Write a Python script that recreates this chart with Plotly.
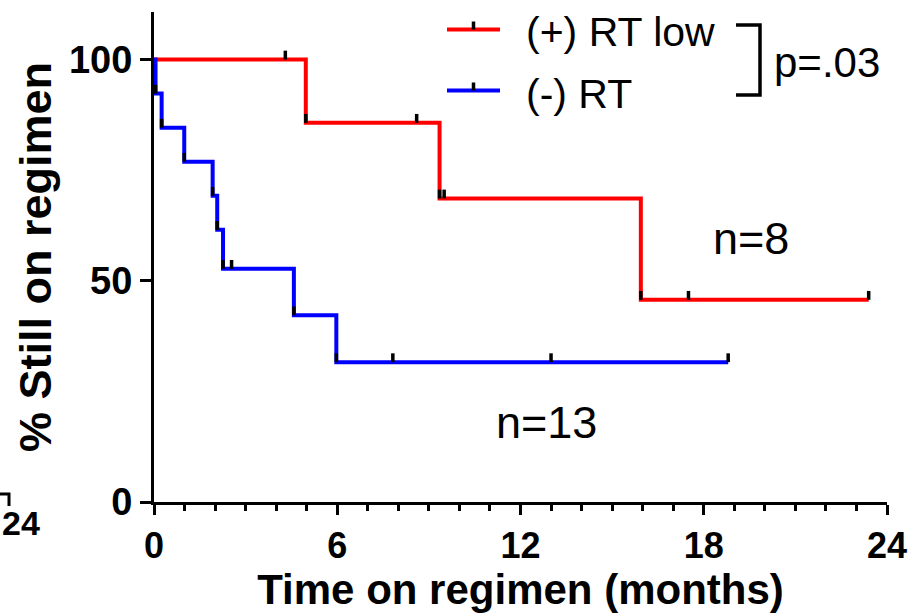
import plotly.graph_objects as go

# ---- data ----
red_t = [0, 4.97, 9.35, 15.94, 23.4]
red_s = [100, 85.7, 68.6, 45.7, 45.7]
red_cens_t = [4.3, 8.6, 9.5, 17.5, 23.4]
red_cens_s = [100, 85.7, 68.6, 45.7, 45.7]

blue_t = [0, 0.05, 0.25, 0.99, 1.92, 2.07, 2.26, 4.58, 5.97, 18.8]
blue_s = [100, 92.3, 84.6, 76.9, 69.2, 61.5, 52.7, 42.2, 31.6, 31.6]
blue_cens_t = [2.54, 7.82, 13.0, 18.8]
blue_cens_s = [52.7, 31.6, 31.6, 31.6]

x_ticks = [0, 6, 12, 18, 24]
y_ticks = [0, 50, 100]
labels = ["(+) RT low", "(-) RT"]
n_labels = ["n=8", "n=13"]
p_label = "p=.03"

RED = "#ff0000"
BLUE = "#0000ff"
FONT = "Liberation Sans, Arial, sans-serif"

fig = go.Figure()

fig.add_trace(go.Scatter(x=red_t, y=red_s, mode="lines", line=dict(color=RED, width=4, shape="hv"),
                         name=labels[0], showlegend=False))
fig.add_trace(go.Scatter(x=blue_t, y=blue_s, mode="lines", line=dict(color=BLUE, width=4, shape="hv"),
                         name=labels[1], showlegend=False))

def tick_trace(xs, ys):
    return go.Scatter(x=xs, y=ys, mode="markers",
                      marker=dict(size=1, color="rgba(0,0,0,0)"),
                      error_y=dict(type="constant", value=2.0, valueminus=0, symmetric=False,
                                   thickness=3.5, width=0, color="black"),
                      showlegend=False, hoverinfo="skip")

# symbols at events (bottom of each drop) and at censored points
fig.add_trace(tick_trace(red_t[1:4] + red_cens_t, red_s[1:4] + red_cens_s))
fig.add_trace(tick_trace(blue_t[1:9] + blue_cens_t, blue_s[1:9] + blue_cens_s))

# plot area geometry (pixels)
L, R, T, B = 154, 887, 12, 502
W, H = 920, 614
def px(xp):
    return (xp - L) / (R - L)
def py(yp):
    return (B - yp) / (B - T)

shapes = []
annotations = []

# manual legend
for yy, col, lab in [(29.5, RED, labels[0]), (90.5, BLUE, labels[1])]:
    shapes.append(dict(type="line", xref="paper", yref="paper", x0=px(447), x1=px(500), y0=py(yy), y1=py(yy),
                       line=dict(color=col, width=4)))
    shapes.append(dict(type="line", xref="paper", yref="paper", x0=px(473.5), x1=px(473.5), y0=py(yy), y1=py(yy - 8),
                       line=dict(color="black", width=3.5)))
    annotations.append(dict(xref="paper", yref="paper", x=px(524), y=py(yy + 3), text=lab, showarrow=False,
                            xanchor="left", yanchor="middle", font=dict(family=FONT, size=41, color="black")))

# bracket + p value
shapes.append(dict(type="path", xref="paper", yref="paper",
                   path=f"M {px(736)} {py(25)} L {px(760)} {py(25)} L {px(760)} {py(95)} L {px(736)} {py(95)}",
                   line=dict(color="black", width=3.5)))
annotations.append(dict(xref="paper", yref="paper", x=px(772), y=py(62), text=p_label, showarrow=False,
                        xanchor="left", yanchor="middle", font=dict(family=FONT, size=42, color="black")))

# n labels
annotations.append(dict(xref="paper", yref="paper", x=px(751), y=py(238), text=n_labels[0], showarrow=False,
                        xanchor="center", yanchor="middle", font=dict(family=FONT, size=45, color="black")))
annotations.append(dict(xref="paper", yref="paper", x=px(546), y=py(422), text=n_labels[1], showarrow=False,
                        xanchor="center", yanchor="middle", font=dict(family=FONT, size=45, color="black")))

# fragment of neighbouring panel at the far left edge
shapes.append(dict(type="path", xref="paper", yref="paper",
                   path=f"M {px(-5)} {py(494)} L {px(9)} {py(494)} L {px(9)} {py(506)}",
                   line=dict(color="black", width=3)))
annotations.append(dict(xref="paper", yref="paper", x=px(0), y=py(523), text="24", showarrow=False,
                        xanchor="left", yanchor="middle",
                        font=dict(family=FONT, size=34, color="black", weight="bold")))

fig.update_layout(
    width=W, height=H,
    margin=dict(l=L, r=W - R, t=T, b=H - B, autoexpand=False),
    plot_bgcolor="white", paper_bgcolor="white",
    showlegend=False,
    shapes=shapes, annotations=annotations,
    xaxis=dict(range=[0, 24], tickmode="array", tickvals=x_ticks, ticktext=[str(v) for v in x_ticks],
               automargin=False,
               showgrid=False, zeroline=False, showline=True, linecolor="black", linewidth=3,
               ticks="outside", ticklen=10, tickwidth=3, tickcolor="black",
               minor=dict(dtick=1, ticks="outside", ticklen=6, tickwidth=3, tickcolor="black", showgrid=False),
               tickfont=dict(family=FONT, size=36, color="black", weight="bold"),
               title=dict(text="Time on regimen (months)", standoff=4,
                          font=dict(family=FONT, size=42, color="black", weight="bold")),
               fixedrange=True),
    yaxis=dict(range=[0, (B - T) / 4.425], tickmode="array", tickvals=y_ticks, ticktext=[str(v) for v in y_ticks],
               automargin=False,
               showgrid=False, zeroline=False, showline=True, linecolor="black", linewidth=3,
               ticks="outside", ticklen=11, tickwidth=3, tickcolor="black",
               tickfont=dict(family=FONT, size=38, color="black", weight="bold"),
               title=dict(text="% Still on regimen", standoff=4,
                          font=dict(family=FONT, size=45, color="black", weight="bold")),
               fixedrange=True),
)

fig.write_html("out.html", config={"displayModeBar": False},
               post_script="document.body.style.margin='0';document.body.style.overflow='hidden';")
